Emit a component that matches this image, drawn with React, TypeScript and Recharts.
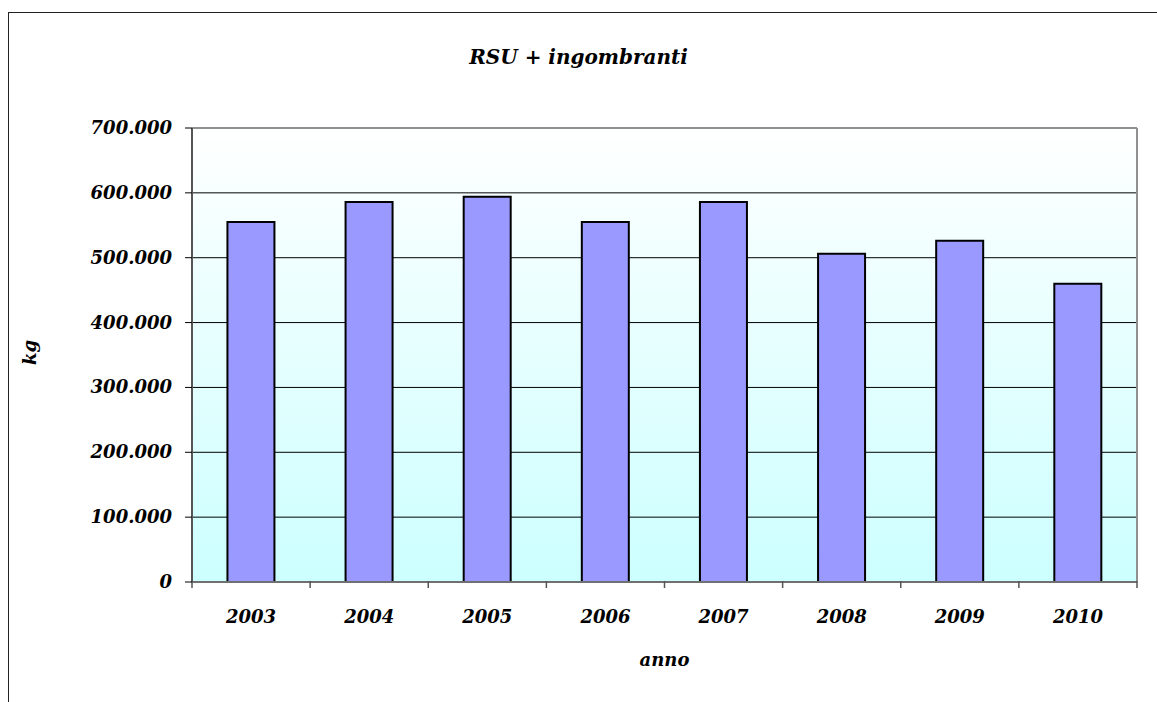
import React from 'react'
import {
  BarChart,
  Bar,
  XAxis,
  YAxis,
  CartesianGrid,
  ReferenceLine,
} from 'recharts'

const years = ['2003', '2004', '2005', '2006', '2007', '2008', '2009', '2010']
const rsuKg = [555000, 586000, 594000, 555000, 586000, 506000, 526000, 460000]
const yTicks = [0, 100000, 200000, 300000, 400000, 500000, 600000, 700000]

const data = years.map((anno, i) => ({ anno, kg: rsuKg[i] }))

const FONT = '"DejaVu Serif", serif'

function fmt(v: number) {
  if (v === 0) return '0'
  return v.toLocaleString('it-IT').replace(/,/g, '.')
}

// y tick: x arrives ~8px left of the axis
function YTick(props: any) {
  const { x, y, payload } = props
  return (
    <g>
      <line x1={x + 1} x2={x + 8} y1={y} y2={y} stroke="#000" strokeWidth={1} />
      <text
        x={x - 12}
        y={y}
        dy={6}
        textAnchor="end"
        fontFamily={FONT}
        fontSize={18}
        fontWeight="bold"
        fontStyle="italic"
        fill="#000"
      >
        {fmt(payload.value)}
      </text>
    </g>
  )
}

// x tick: marks sit on category edges, label under the centre
function XTick(props: any) {
  const { x, y, payload } = props
  const half = payload.offset ?? 59
  return (
    <g>
      <line x1={x - half} x2={x - half} y1={y - 9} y2={y - 2} stroke="#555" strokeWidth={1.5} />
      {payload.index === years.length - 1 && (
        <line x1={x + half} x2={x + half} y1={y - 9} y2={y - 2} stroke="#555" strokeWidth={1.5} />
      )}
      <text
        x={x}
        y={y}
        dy={33}
        textAnchor="middle"
        fontFamily={FONT}
        fontSize={18}
        fontWeight="bold"
        fontStyle="italic"
        fill="#000"
      >
        {payload.value}
      </text>
    </g>
  )
}

export default function App() {
  return (
    <div style={{ position: 'absolute', left: 0, top: 0, width: 1157, height: 702, background: '#fff', overflow: 'hidden' }}>
      <div
        style={{
          position: 'absolute',
          left: 8,
          top: 12,
          width: 1200,
          height: 800,
          borderTop: '1.5px solid #222',
          borderLeft: '1.5px solid #222',
        }}
      />
      <div
        style={{
          position: 'absolute',
          top: 45,
          left: 0,
          width: 1157,
          textAlign: 'center',
          fontFamily: FONT,
          fontSize: 20,
          fontWeight: 'bold',
          fontStyle: 'italic',
        }}
      >
        RSU + ingombranti
      </div>
      <div style={{ position: 'absolute', left: 0, top: 0 }}>
        <BarChart
          width={1157}
          height={702}
          data={data}
          margin={{ top: 128, right: 19, bottom: 0, left: 0 }}
          barCategoryGap="30%"
        >
          <defs>
            <linearGradient id="plotBg" x1="0" y1="0" x2="0" y2="1">
              <stop offset="0%" stopColor="#ffffff" />
              <stop offset="100%" stopColor="#ccffff" />
            </linearGradient>
          </defs>
          <CartesianGrid
            vertical={false}
            horizontalValues={yTicks.slice(1, -1)}
            stroke="#000"
            strokeWidth={1}
            fill="url(#plotBg)"
            fillOpacity={1}
          />
          <XAxis
            dataKey="anno"
            height={120}
            axisLine={{ stroke: '#707070', strokeWidth: 2 }}
            tickLine={false}
            tick={<XTick />}
            label={{
              value: 'anno',
              position: 'insideBottom',
              offset: 36,
              fontFamily: FONT,
              fontSize: 18,
              fontWeight: 'bold',
              fontStyle: 'italic',
              fill: '#000',
            }}
          />
          <YAxis
            width={192}
            domain={[0, 700000]}
            ticks={yTicks}
            interval={0}
            axisLine={{ stroke: '#555', strokeWidth: 2 }}
            tickLine={false}
            tick={<YTick />}
            label={{
              value: 'kg',
              angle: -90,
              position: 'insideLeft',
              offset: 30,
              dy: 10,
              fontFamily: FONT,
              fontSize: 18,
              fontWeight: 'bold',
              fontStyle: 'italic',
              fill: '#000',
            }}
          />
          <YAxis
            yAxisId="right"
            orientation="right"
            width={1}
            domain={[0, 700000]}
            tick={false}
            tickLine={false}
            axisLine={{ stroke: '#909090', strokeWidth: 2 }}
          />
          <ReferenceLine y={700000} stroke="#909090" strokeWidth={2} />
          <Bar
            dataKey="kg"
            fill="#9999ff"
            stroke="#000"
            strokeWidth={2}
            isAnimationActive={false}
          />
        </BarChart>
      </div>
    </div>
  )
}
